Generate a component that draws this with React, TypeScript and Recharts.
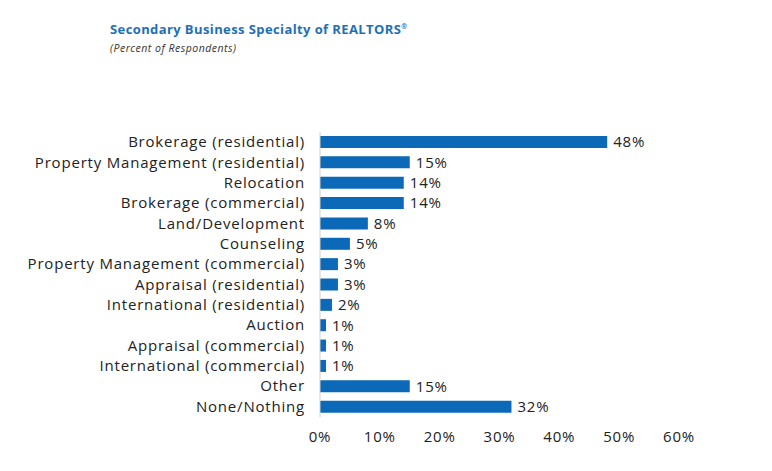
import React from "react";
import { BarChart, Bar, XAxis, YAxis, LabelList } from "recharts";

const categories = [
  "Brokerage (residential)",
  "Property Management (residential)",
  "Relocation",
  "Brokerage (commercial)",
  "Land/Development",
  "Counseling",
  "Property Management (commercial)",
  "Appraisal (residential)",
  "International (residential)",
  "Auction",
  "Appraisal (commercial)",
  "International (commercial)",
  "Other",
  "None/Nothing",
];
const values = [48, 15, 14, 14, 8, 5, 3, 3, 2, 1, 1, 1, 15, 32];
const xTicks = [0, 10, 20, 30, 40, 50, 60];

const data = categories.map((c, i) => ({ name: c, value: values[i] }));

const FONT = "'Open Sans', sans-serif";
const BLUE = "#0b69b7";
const LS = 0.8;

const YTick = (props: any) => {
  const { x, y, payload } = props;
  return (
    <text x={x - 7} y={y} dy={5} textAnchor="end" fontSize={15} fill="#222" fontFamily={FONT} letterSpacing={LS}>
      {payload.value}
    </text>
  );
};

export default function App() {
  return (
    <div style={{ position: "absolute", left: 0, top: 0, width: 772, height: 471, background: "#fff" }}>
      <div style={{ position: "absolute", left: 110, top: 20, fontFamily: FONT, fontWeight: 700, fontSize: 13, letterSpacing: 0.4, color: "#1e6fb6" }}>
        Secondary Business Specialty of REALTORS<sup style={{ fontSize: 7 }}>®</sup>
      </div>
      <div style={{ position: "absolute", left: 110, top: 41, fontFamily: FONT, fontStyle: "italic", fontSize: 10.5, letterSpacing: 0.5, color: "#333" }}>
        (Percent of Respondents)
      </div>
      <BarChart
        width={772}
        height={471}
        data={data}
        layout="vertical"
        margin={{ top: 132, right: 93, bottom: 24, left: 0 }}
        barCategoryGap={4}
      >
        <XAxis
          type="number"
          domain={[0, 60]}
          ticks={xTicks}
          tickFormatter={(v: number) => `${v}%`}
          axisLine={false}
          tickLine={false}
          height={30}
          tick={{ fontSize: 15, fill: "#222", fontFamily: FONT, letterSpacing: LS }}
          tickMargin={8}
          interval={0}
        />
        <YAxis
          type="category"
          dataKey="name"
          width={320}
          axisLine={{ stroke: "#d0d0d0" }}
          tickLine={false}
          tick={<YTick />}
          interval={0}
        />
        <Bar dataKey="value" fill={BLUE} isAnimationActive={false} barSize={12}>
          <LabelList
            dataKey="value"
            position="right"
            offset={6}
            formatter={(v: any) => `${v}%`}
            style={{ fontSize: 15, fill: "#222", fontFamily: FONT, letterSpacing: LS }}
          />
        </Bar>
      </BarChart>
    </div>
  );
}
